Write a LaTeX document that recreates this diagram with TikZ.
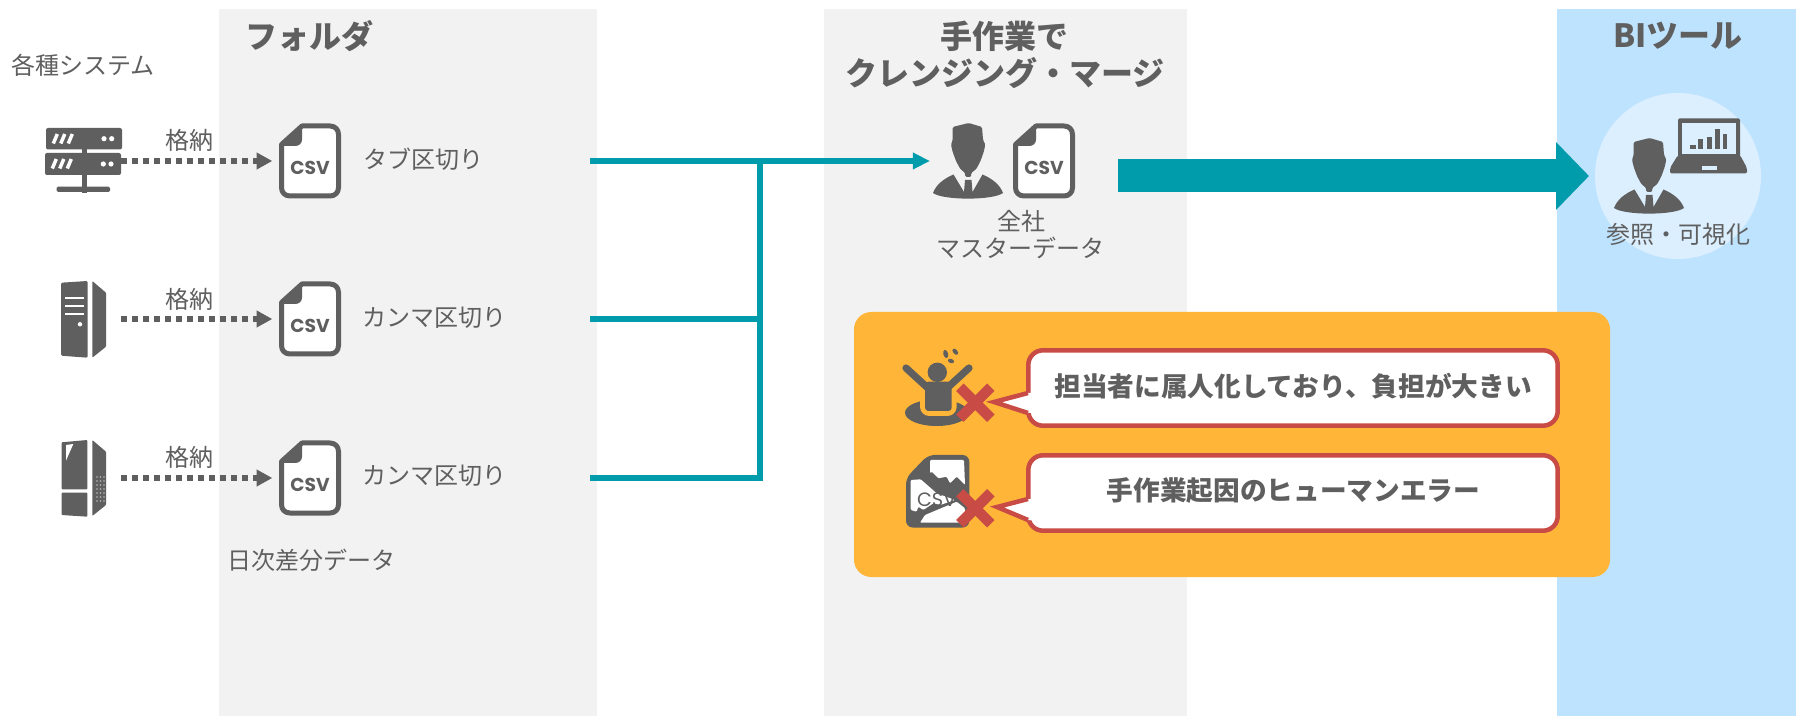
\documentclass[tikz,border=0pt]{standalone}
\usepackage{fontspec}
\setmainfont{Noto Sans CJK JP}
\newfontfamily\csvfont{Poppins}
\usetikzlibrary{arrows.meta}
\definecolor{icon}{HTML}{5F5F5F}
\definecolor{panel}{HTML}{F2F2F2}
\definecolor{bipanel}{HTML}{BEE3FF}
\definecolor{bicircle}{HTML}{DCEFFF}
\definecolor{teal}{HTML}{009CAC}
\definecolor{amber}{HTML}{FFB638}
\definecolor{alert}{HTML}{C84C45}
\tikzset{
  x=.75pt,y=-.75pt,
  iconbox/.style={inner sep=0pt,outer sep=0pt,minimum width=#1},
  lbl/.style={text=icon,font=\fontsize{18pt}{21pt}\selectfont,inner sep=0pt,align=center},
  ttl/.style={text=icon,font=\fontsize{24pt}{28pt}\selectfont\bfseries,inner sep=0pt},
  msg/.style={text=icon,font=\fontsize{20pt}{24pt}\selectfont\bfseries,inner sep=0pt},
  store/.style={draw=icon,line width=4pt,dash pattern=on 4.2pt off 4.05pt,-{Triangle[length=11.8pt,width=12pt]}},
  feed/.style={draw=teal,line width=4.3pt},
  bubble/.style={draw=alert,line width=3.4pt,fill=white,rounded corners=11pt},
  pointer/.style={draw=alert,line width=3.4pt,line join=miter},
  crossmark/.style={draw=alert,line width=7.9pt},
  csvdoc/.pic={
    \draw[draw=icon,fill=white,line width=3.75pt,line join=round] (2.5,21) -- (23,2.5) -- (51,2.5) .. controls (56,2.5) and (59.5,6) .. (59.5,11) -- (59.5,64) .. controls (59.5,69) and (56,72.5) .. (51,72.5) -- (11,72.5) .. controls (6,72.5) and (2.5,69) .. (2.5,64) -- cycle;
    \fill[icon] (1,22.5) -- (23,1) -- (23,16) .. controls (23,20) and (20,22.5) .. (16,22.5) -- cycle;
    \node[text=icon,inner sep=0pt,font=\csvfont\bfseries\fontsize{14pt}{14pt}\selectfont] (txt) at (31,44) {CSV};
  },
  person/.pic={
    \fill[icon,rounded corners=1pt] (19.7,4) -- (35.7,0) -- (49,4) -- (50,16.7) -- (52.3,21.7) -- (50.7,29) -- (47.5,38) -- (43.3,46) -- (38.2,50) -- (38.2,54) -- (32.2,54) -- (32.2,50) -- (27.3,46) -- (23,38) -- (19.7,29) -- (18,21.7) -- (19.7,16.7) -- cycle;
    \fill[icon] (0,70) .. controls (3,62) and (10,56) .. (20.5,51.5) -- (31,69) -- (32,57) -- (38.5,57) -- (39.5,69) -- (49.5,51.5) .. controls (60,56) and (67,62) .. (70,70) .. controls (60,77.5) and (10,77.5) .. (0,70) -- cycle;
  }
}
\begin{document}
\begin{tikzpicture}
\useasboundingbox (0,0) rectangle (1796,716);
\fill[white] (0,0) rectangle (1796,716);
% panels
\fill[panel] (219,9) rectangle (597,716);
\fill[panel] (824,9) rectangle (1187,716);
\fill[bipanel] (1557,9) rectangle (1796,716);
\node[circle,fill=bicircle,inner sep=0pt,outer sep=0pt,minimum size=124.5pt] (bic) at (1678,176) {};

% titles
\node[ttl] (t1) at (309,36) {フォルダ};
\node[ttl] (t2a) at (1004.5,36) {手作業で};
\node[ttl] (t2b) at (1005,73) {クレンジング・マージ};
\node[ttl] (t3) at (1678,36) {BIツール};
\node[lbl] (sys) at (83,65) {各種システム};

% anchors of icons
\node[iconbox=57pt,minimum height=48pt] (s1) at (83,161) {};
\node[iconbox=57pt,minimum height=58pt] (s2) at (83,319) {};
\node[iconbox=57pt,minimum height=58pt] (s3) at (83,478) {};
\node[iconbox=46.5pt,minimum height=57pt] (f1) at (310,161) {};
\node[iconbox=46.5pt,minimum height=57pt] (f2) at (310,319) {};
\node[iconbox=46.5pt,minimum height=57pt] (f3) at (310,478) {};
\node[iconbox=52.5pt,minimum height=57pt] (p1) at (968,161) {};

% server
\fill[icon] (81.7,149) rectangle (86.7,193);
\fill[icon,rounded corners=1pt] (56.7,186.7) rectangle (110,192);
\fill[icon,rounded corners=1.5pt] (46,128) rectangle (122,149.5);
\fill[icon,rounded corners=1.5pt] (45,153) rectangle (121,175);
\foreach \dx in {0,7.5,15}{
  \draw[white,line width=2.6pt] (57.3+\dx,134) -- (53.3+\dx,143.5);
  \draw[white,line width=2.6pt] (56.3+\dx,159) -- (52.3+\dx,168.5);
}
\foreach \cx/\cy in {104/138.7,111.7/138.7,103.3/164,111/164}
  \fill[white] (\cx,\cy) circle[radius=2.6];
% tower
\fill[icon,rounded corners=1pt] (61,282.7) -- (87.7,281) -- (87.7,357.7) -- (61,355.7) -- cycle;
\fill[icon,rounded corners=.6pt] (92.3,281) -- (106,292.7) -- (106,346.7) -- (92.3,357.7) -- cycle;
\foreach \ly in {298.3,306,314.3}
  \draw[white,line width=1.6pt] (65,\ly) -- (84,\ly);
\fill[white] (80,324.3) circle[radius=2.2];
% slim tower
\fill[icon,rounded corners=.6pt] (61.7,442.3) -- (87.3,440) -- (87.3,489.3) -- (61.7,489.3) -- cycle;
\fill[icon,rounded corners=.6pt] (61.7,492.7) -- (87.3,492.7) -- (87.3,516.7) -- (61.7,515) -- cycle;
\fill[icon,rounded corners=.6pt] (92.3,440) -- (106,451.7) -- (106,505) -- (92.3,516) -- cycle;
\fill[white] (66,445) -- (73.3,444) -- (66,460.7) -- cycle;
\foreach \dy in {477,481,...,503}{
  \foreach \dx in {97,100.5,104}
    \fill[white!55!icon] (\dx,\dy) circle[radius=.9];
}

% store arrows
\draw[store,shorten >=5pt] (s1.east) -- (f1.west);
\draw[store,shorten >=5pt] (s2.east) -- (f2.west);
\draw[store,shorten >=5pt] (s3.east) -- (f3.west);
\node[lbl] (k1) at (189,140) {格納};
\node[lbl] (k2) at (189,299) {格納};
\node[lbl] (k3) at (189,457) {格納};

% csv documents
\pic (d1) at (279,123.5) {csvdoc};
\pic (d2) at (279,281.5) {csvdoc};
\pic (d3) at (279,440.5) {csvdoc};
\pic (d4) at (1013,123.5) {csvdoc};
\node[lbl,anchor=west] (l1) at (363,159) {タブ区切り};
\node[lbl,anchor=west] (l2) at (362,318) {カンマ区切り};
\node[lbl,anchor=west] (l3) at (362,476) {カンマ区切り};
\node[lbl,anchor=west] (daily) at (227,560) {日次差分データ};

% teal connectors
\coordinate (o1) at (590,161);
\coordinate (o2) at (590,319);
\coordinate (o3) at (590,478);
\coordinate (j1) at (760,161);
\coordinate (j2) at (760,319);
\coordinate (j3) at (760,478);
\draw[feed,-{Triangle[length=12.75pt,width=11.8pt]},shorten >=2.3pt] (o1) -- (p1.west);
\draw[feed] (o2) -- (j2);
\draw[feed] (o3) -- (j3);
\draw[feed,line cap=rect] (j3) -- (j1);

% persons
\pic (m1) at (933,123) {person};
\pic (m2) at (1614,138) {person};
\node[lbl] (all) at (1021,221) {全社};
\node[lbl] (master) at (1020,248) {マスターデータ};

% big arrow
\coordinate (big) at (1118,176);
\draw[draw=teal,line width=24.75pt,-{Triangle[length=24.75pt,width=49.5pt]},shorten >=4.5pt] (big) -- (bic.west);

% laptop
\fill[icon,rounded corners=1pt] (1678,118.5) rectangle (1740,162);
\fill[bicircle] (1682,123.5) rectangle (1735.5,154);
\fill[icon,rounded corners=1.5pt] (1678,155) -- (1740,155) -- (1747,168) -- (1747,173.5) -- (1670,173.5) -- (1670,168) -- cycle;
\fill[bicircle] (1701.7,166) rectangle (1716.7,170);
\fill[icon] (1690,145) rectangle (1695.7,149.3);
\fill[icon] (1697.7,139.3) rectangle (1703.3,149.3);
\fill[icon] (1706.7,136.7) rectangle (1711.7,149.3);
\fill[icon] (1715,129) rectangle (1720,149.3);
\fill[icon] (1722.7,134) rectangle (1727.3,149.3);
\node[lbl] (view) at (1678,234) {参照・可視化};

% orange box
\fill[amber,rounded corners=13pt] (854,312) rectangle (1610,577);

% worried figure
\fill[icon] (936.7,412.7) ellipse[x radius=31.7,y radius=13.3];
\fill[amber,rounded corners=7pt] (920,390) rectangle (956.7,416);
\draw[icon,line width=5.4pt,line cap=round] (906,368) -- (930,390);
\draw[icon,line width=5.4pt,line cap=round] (969,368) -- (945,390);
\fill[icon,rounded corners=2.5pt] (925,381.7) rectangle (951.7,411);
\fill[icon] (937.3,372.3) circle[radius=9.7];
\fill[icon,rotate around={15:(945.7,354)}] (945.7,354) ellipse[x radius=2.4,y radius=4.2];
\fill[icon,rotate around={40:(955.3,351.7)}] (955.3,351.7) ellipse[x radius=2.2,y radius=3.6];
\fill[icon,rotate around={70:(951,361)}] (951,361) ellipse[x radius=2.1,y radius=3.2];

% broken csv
\fill[icon,rounded corners=5pt] (906,478) -- (928,455) -- (969.3,455) -- (969.3,527.5) -- (906,527.5) -- cycle;
\fill[white,rounded corners=.8pt] (930,460) -- (964,460) -- (965,485) -- (956.7,476.7) -- (950,483.3) -- (946.7,476.7) -- (938.3,478.3) -- (931.7,471.7) -- (930,473.3) -- cycle;
\fill[white,rounded corners=.8pt] (910.7,480) -- (920.7,479.3) -- (936.7,493.3) -- (955,500) -- (940,505) -- (933.3,503.3) -- (923.3,510) -- (918.3,506.7) -- (916.7,511.7) -- (910.7,510) -- cycle;
\fill[white,rounded corners=.8pt] (920,522.7) -- (925,515) -- (956.7,501.7) -- (965,508.3) -- (965,518) -- (960,522.7) -- cycle;
\node[text=icon,inner sep=0pt,font=\csvfont\fontsize{14.5pt}{14.5pt}\selectfont] (bcsv) at (936.7,500) {CSV};

% red crosses
\coordinate (xa) at (975.3,402.7);
\coordinate (xb) at (975.3,508.3);
\foreach \c in {xa,xb}{
  \draw[crossmark] ([shift={(-15.5,-15.5)}]\c) -- ([shift={(15.5,15.5)}]\c);
  \draw[crossmark] ([shift={(-15.5,15.5)}]\c) -- ([shift={(15.5,-15.5)}]\c);
}

% callouts
\draw[bubble] (1028.3,350.3) rectangle (1557.7,425.7);
\fill[white] (1032,393) -- (1027,393) -- (996,402) -- (1027,413) -- (1032,413) -- cycle;
\draw[pointer] (1028,393) -- (994,402) -- (1028,413);
\draw[bubble] (1028.3,455.3) rectangle (1557.7,530.7);
\fill[white] (1032,499) -- (1027,499) -- (999,507) -- (1027,520) -- (1032,520) -- cycle;
\draw[pointer] (1028,499) -- (997,507) -- (1028,520);
\node[msg] (b1) at (1293,386.5) {担当者に属人化しており、負担が大きい};
\node[msg] (b2) at (1293.5,491) {手作業起因のヒューマンエラー};
\end{tikzpicture}
\end{document}
